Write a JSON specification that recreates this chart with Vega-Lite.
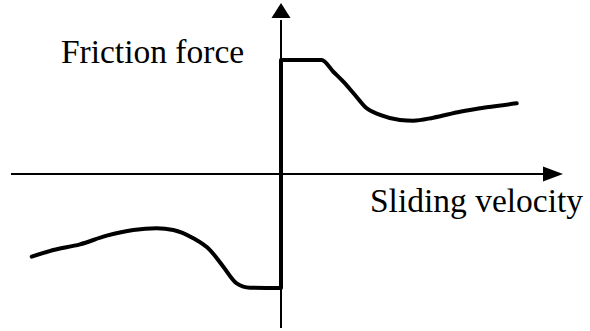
{
  "$schema": "https://vega.github.io/schema/vega-lite/v6.json",
  "width": 590,
  "height": 331,
  "padding": 0,
  "autosize": {"type": "fit", "contains": "padding"},
  "background": "white",
  "config": {"view": {"stroke": null}},
  "layer": [
    {
      "data": {"values": [{"v1": -5.4, "v2": 5.3, "F": 0}]},
      "mark": {"type": "rule", "color": "black", "strokeWidth": 2},
      "encoding": {
        "x": {"field": "v1", "type": "quantitative", "scale": {"domain": [-5.62, 6.18], "nice": false, "zero": false}, "axis": null},
        "x2": {"field": "v2"},
        "y": {"field": "F", "type": "quantitative", "scale": {"domain": [-1.377, 1.526], "nice": false, "zero": false}, "axis": null}
      }
    },
    {
      "data": {"values": [{"v": 0, "F1": -1.351, "F2": 1.35}]},
      "mark": {"type": "rule", "color": "black", "strokeWidth": 2},
      "encoding": {
        "x": {"field": "v", "type": "quantitative", "scale": {"domain": [-5.62, 6.18], "nice": false, "zero": false}, "axis": null},
        "y": {"field": "F1", "type": "quantitative", "scale": {"domain": [-1.377, 1.526], "nice": false, "zero": false}, "axis": null},
        "y2": {"field": "F2"}
      }
    },
    {
      "data": {"values": [{"v": 0, "F1": -1.0, "F2": 1.0}]},
      "mark": {"type": "rule", "color": "black", "strokeWidth": 4},
      "encoding": {
        "x": {"field": "v", "type": "quantitative", "scale": {"domain": [-5.62, 6.18], "nice": false, "zero": false}, "axis": null},
        "y": {"field": "F1", "type": "quantitative", "scale": {"domain": [-1.377, 1.526], "nice": false, "zero": false}, "axis": null},
        "y2": {"field": "F2"}
      }
    },
    {
      "data": {"values": [
        {"branch": "positive", "v": 0, "F": 1.0},
        {"branch": "positive", "v": 0.814, "F": 1.0},
        {"branch": "positive", "v": 1.046, "F": 0.897},
        {"branch": "positive", "v": 1.246, "F": 0.81},
        {"branch": "positive", "v": 1.48, "F": 0.693},
        {"branch": "positive", "v": 1.714, "F": 0.576},
        {"branch": "positive", "v": 1.98, "F": 0.518},
        {"branch": "positive", "v": 2.38, "F": 0.474},
        {"branch": "positive", "v": 2.646, "F": 0.468},
        {"branch": "positive", "v": 3.046, "F": 0.494},
        {"branch": "positive", "v": 3.58, "F": 0.546},
        {"branch": "positive", "v": 4.114, "F": 0.585},
        {"branch": "positive", "v": 4.714, "F": 0.62},
        {"branch": "negative", "v": 0, "F": -1.0},
        {"branch": "negative", "v": -0.62, "F": -0.997},
        {"branch": "negative", "v": -0.886, "F": -0.959},
        {"branch": "negative", "v": -1.154, "F": -0.813},
        {"branch": "negative", "v": -1.42, "F": -0.667},
        {"branch": "negative", "v": -1.754, "F": -0.564},
        {"branch": "negative", "v": -2.154, "F": -0.491},
        {"branch": "negative", "v": -2.486, "F": -0.476},
        {"branch": "negative", "v": -2.954, "F": -0.491},
        {"branch": "negative", "v": -3.486, "F": -0.541},
        {"branch": "negative", "v": -4.02, "F": -0.617},
        {"branch": "negative", "v": -4.554, "F": -0.667},
        {"branch": "negative", "v": -4.986, "F": -0.725}
      ]},
      "mark": {"type": "line", "color": "black", "strokeWidth": 4, "interpolate": "monotone", "strokeCap": "round", "strokeJoin": "round"},
      "encoding": {
        "x": {"field": "v", "type": "quantitative", "scale": {"domain": [-5.62, 6.18], "nice": false, "zero": false}, "axis": null},
        "y": {"field": "F", "type": "quantitative", "scale": {"domain": [-1.377, 1.526], "nice": false, "zero": false}, "axis": null},
        "detail": {"field": "branch", "type": "nominal"}
      }
    },
    {
      "data": {"values": [{"v": 0, "F": 1.434, "dir": "up"}]},
      "mark": {"type": "point", "filled": true, "color": "black", "opacity": 1, "size": 361, "shape": "M-1,0.8L0,-0.8L1,0.8Z"},
      "encoding": {
        "x": {"field": "v", "type": "quantitative", "scale": {"domain": [-5.62, 6.18], "nice": false, "zero": false}, "axis": null},
        "y": {"field": "F", "type": "quantitative", "scale": {"domain": [-1.377, 1.526], "nice": false, "zero": false}, "axis": null}
      }
    },
    {
      "data": {"values": [{"v": 5.44, "F": 0, "dir": "right"}]},
      "mark": {"type": "point", "filled": true, "color": "black", "opacity": 1, "size": 400, "shape": "M-1,-0.75L1,0L-1,0.75Z"},
      "encoding": {
        "x": {"field": "v", "type": "quantitative", "scale": {"domain": [-5.62, 6.18], "nice": false, "zero": false}, "axis": null},
        "y": {"field": "F", "type": "quantitative", "scale": {"domain": [-1.377, 1.526], "nice": false, "zero": false}, "axis": null}
      }
    },
    {
      "data": {"values": [
        {"label": "Friction force", "v": -2.57, "F": 0.974},
        {"label": "Sliding velocity", "v": 3.91, "F": -0.333}
      ]},
      "mark": {"type": "text", "font": "Liberation Serif", "fontSize": 33.5, "color": "black", "align": "center", "baseline": "alphabetic"},
      "encoding": {
        "x": {"field": "v", "type": "quantitative", "scale": {"domain": [-5.62, 6.18], "nice": false, "zero": false}, "axis": null},
        "y": {"field": "F", "type": "quantitative", "scale": {"domain": [-1.377, 1.526], "nice": false, "zero": false}, "axis": null},
        "text": {"field": "label", "type": "nominal"}
      }
    }
  ]
}
